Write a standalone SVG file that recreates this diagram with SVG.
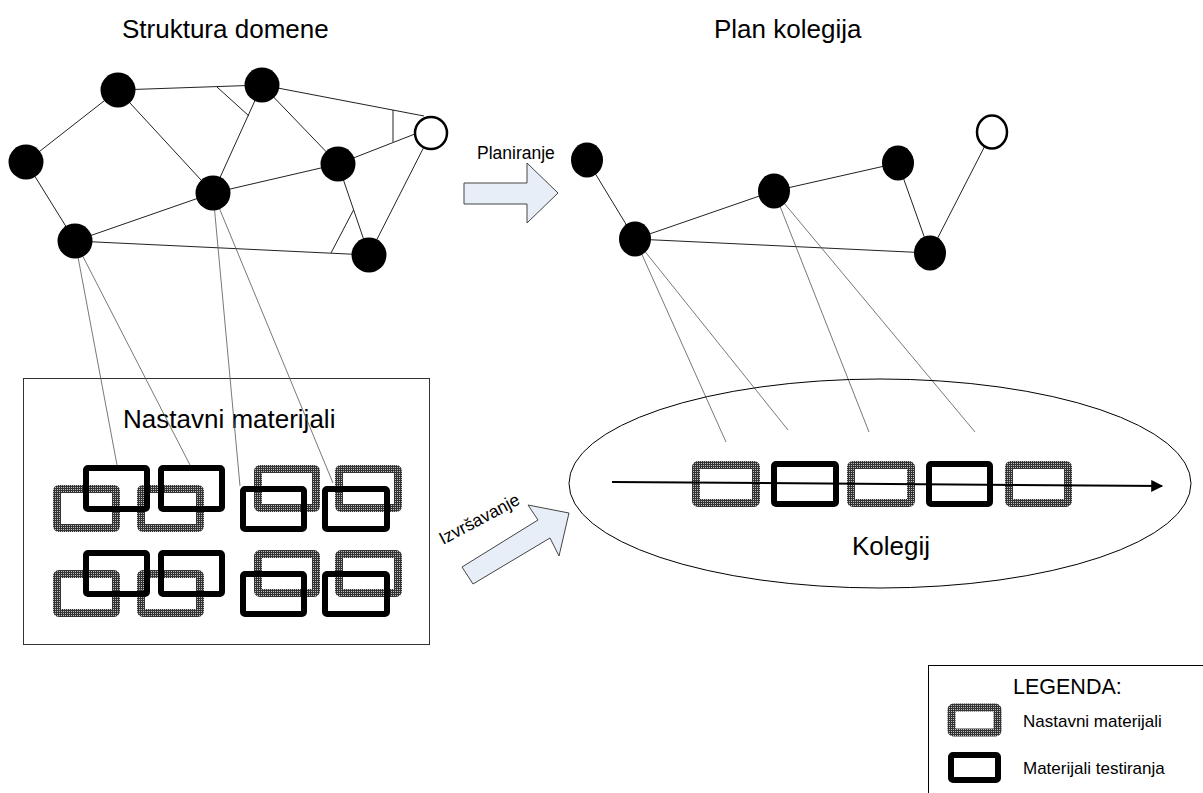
<svg xmlns="http://www.w3.org/2000/svg" width="1203" height="793" viewBox="0 0 1203 793">
<defs>
<pattern id="hatch" width="2" height="2" patternUnits="userSpaceOnUse"><rect width="2" height="2" fill="#bdbdbd"/><rect width="2" height="1" fill="#333"/><rect width="1" height="2" fill="#333"/></pattern>
<marker id="ah" viewBox="0 0 10 10" refX="9" refY="5" markerWidth="7" markerHeight="6" orient="auto" markerUnits="strokeWidth"><path d="M0,0 L10,5 L0,10 z" fill="#000"/></marker>
</defs>
<style>
text{font-family:"Liberation Sans",Arial,sans-serif;fill:#000}
.t26{font-size:26px}
.edge{stroke:#222;stroke-width:1;fill:none}
.link{stroke:#555;stroke-width:0.8;fill:none}
.node{fill:#000}
.open{fill:#fff;stroke:#000;stroke-width:2.5}
.hm{fill:none;stroke:url(#hatch);stroke-width:8}
.tm{fill:none;stroke:#000;stroke-width:6}
.barrow{fill:#e8eef8;stroke:#444;stroke-width:1}
</style>
<rect width="1203" height="793" fill="#fff"/>

<text class="t26" x="122" y="38">Struktura domene</text>
<text class="t26" x="714" y="38">Plan kolegija</text>

<g id="materials-box">
<rect x="23.5" y="378.5" width="406" height="266" fill="#fff" stroke="#333" stroke-width="1"/>
<text class="t26" x="123" y="428">Nastavni materijali</text>
</g>

<g id="connectors">
<line class="edge" x1="118" y1="90" x2="262" y2="85"/>
<line class="edge" x1="118" y1="90" x2="26" y2="162"/>
<line class="edge" x1="118" y1="90" x2="213" y2="193"/>
<line class="edge" x1="262" y1="85" x2="213" y2="193"/>
<line class="edge" x1="262" y1="85" x2="338" y2="164"/>
<line class="edge" x1="262" y1="85" x2="424" y2="116"/>
<line class="edge" x1="338" y1="164" x2="420" y2="132"/>
<line class="edge" x1="26" y1="162" x2="75" y2="241"/>
<line class="edge" x1="75" y1="241" x2="213" y2="193"/>
<line class="edge" x1="75" y1="241" x2="369" y2="255"/>
<line class="edge" x1="213" y1="193" x2="338" y2="164"/>
<line class="edge" x1="338" y1="164" x2="369" y2="255"/>
<line class="edge" x1="431" y1="133" x2="369" y2="255"/>
<line class="edge" x1="217" y1="87" x2="249" y2="116"/>
<line class="edge" x1="393" y1="110" x2="393" y2="142"/>
<line class="edge" x1="353.5" y1="210" x2="331" y2="253"/>
<line class="edge" x1="587" y1="160" x2="635" y2="239"/>
<line class="edge" x1="635" y1="239" x2="774" y2="191"/>
<line class="edge" x1="774" y1="191" x2="898" y2="163"/>
<line class="edge" x1="635" y1="239" x2="930" y2="253"/>
<line class="edge" x1="898" y1="163" x2="930" y2="253"/>
<line class="edge" x1="992" y1="132" x2="930" y2="253"/>
<line class="link" x1="75" y1="241" x2="117" y2="465"/>
<line class="link" x1="75" y1="241" x2="190" y2="465"/>
<line class="link" x1="213" y1="193" x2="240" y2="486"/>
<line class="link" x1="213" y1="193" x2="333" y2="483"/>
<line class="link" x1="635" y1="239" x2="726" y2="442"/>
<line class="link" x1="635" y1="239" x2="788" y2="430"/>
<line class="link" x1="774" y1="191" x2="869" y2="432"/>
<line class="link" x1="774" y1="191" x2="975" y2="432"/>
</g>

<g id="left-nodes">
<circle id="n-a" class="node" cx="118" cy="90" r="17.5"/>
<circle id="n-b" class="node" cx="262" cy="85" r="17.5"/>
<circle id="n-c" class="node" cx="26" cy="162" r="17.5"/>
<circle id="n-d" class="node" cx="213" cy="193" r="17.5"/>
<circle id="n-e" class="node" cx="338" cy="164" r="17.5"/>
<circle id="n-f" class="open" cx="431" cy="133" r="16"/>
<circle id="n-g" class="node" cx="75" cy="241" r="17.5"/>
<circle id="n-h" class="node" cx="369" cy="255" r="17.5"/>
</g>

<g id="right-nodes">
<ellipse id="r-1" class="node" cx="587" cy="160" rx="16" ry="17.5"/>
<ellipse id="r-2" class="node" cx="635" cy="239" rx="16" ry="17.5"/>
<ellipse id="r-3" class="node" cx="774" cy="191" rx="16" ry="17.5"/>
<ellipse id="r-4" class="node" cx="898" cy="163" rx="16" ry="17.5"/>
<ellipse id="r-5" class="open" cx="992" cy="132" rx="15" ry="16.5"/>
<ellipse id="r-6" class="node" cx="930" cy="253" rx="16" ry="17.5"/>
</g>

<g id="materials">
<rect class="hm" x="57" y="489" width="59" height="39" rx="2"/>
<rect class="hm" x="141" y="489" width="59" height="39" rx="2"/>
<rect class="hm" x="258" y="469" width="58" height="39" rx="2"/>
<rect class="hm" x="339" y="469" width="59" height="39" rx="2"/>
<rect class="tm" x="86" y="468" width="61" height="41" rx="2"/>
<rect class="tm" x="161" y="468" width="61" height="41" rx="2"/>
<rect class="tm" x="243" y="489" width="61" height="40" rx="2"/>
<rect class="tm" x="325" y="489" width="62" height="40" rx="2"/>
<rect class="hm" x="57" y="574" width="59" height="39" rx="2"/>
<rect class="hm" x="141" y="574" width="59" height="39" rx="2"/>
<rect class="hm" x="258" y="554" width="58" height="39" rx="2"/>
<rect class="hm" x="339" y="554" width="59" height="39" rx="2"/>
<rect class="tm" x="86" y="553" width="61" height="41" rx="2"/>
<rect class="tm" x="161" y="553" width="61" height="41" rx="2"/>
<rect class="tm" x="243" y="574" width="61" height="40" rx="2"/>
<rect class="tm" x="325" y="574" width="62" height="40" rx="2"/>
</g>

<g id="planiranje">
<polygon class="barrow" points="464,183 527,183 527,163 558,193 527,223 527,204 464,204"/>
<text x="477" y="159" font-size="17.5">Planiranje</text>
</g>

<g id="izvrsavanje">
<polygon class="barrow" points="462,567 538,520 528,505 569,513 559,556 550,538 473,584"/>
<text x="443" y="545" font-size="17.5" transform="rotate(-28 443 545)">Izvršavanje</text>
</g>

<g id="kolegij">
<ellipse cx="880" cy="483.5" rx="311" ry="104.5" fill="none" stroke="#000" stroke-width="1"/>
<rect class="hm" x="696" y="465" width="60" height="38" rx="2"/>
<rect class="tm" x="774" y="464" width="62" height="40" rx="2"/>
<rect class="hm" x="851" y="465" width="60" height="38" rx="2"/>
<rect class="tm" x="929" y="464" width="61" height="40" rx="2"/>
<rect class="hm" x="1009" y="465" width="59" height="38" rx="2"/>
<line x1="612" y1="482" x2="1162" y2="486" stroke="#000" stroke-width="2" marker-end="url(#ah)"/>
<text class="t26" x="852" y="555">Kolegij</text>
</g>

<g id="legend">
<rect x="928.5" y="665.5" width="290" height="150" fill="#fff" stroke="#000" stroke-width="1"/>
<text x="1013" y="694" font-size="21.5">LEGENDA:</text>
<rect class="hm" x="951.5" y="707.5" width="46" height="25" rx="2" stroke-width="7"/>
<text x="1023" y="727" font-size="17">Nastavni materijali</text>
<rect class="tm" x="951" y="755" width="47" height="25" rx="2"/>
<text x="1023" y="774" font-size="17">Materijali testiranja</text>
</g>
</svg>
